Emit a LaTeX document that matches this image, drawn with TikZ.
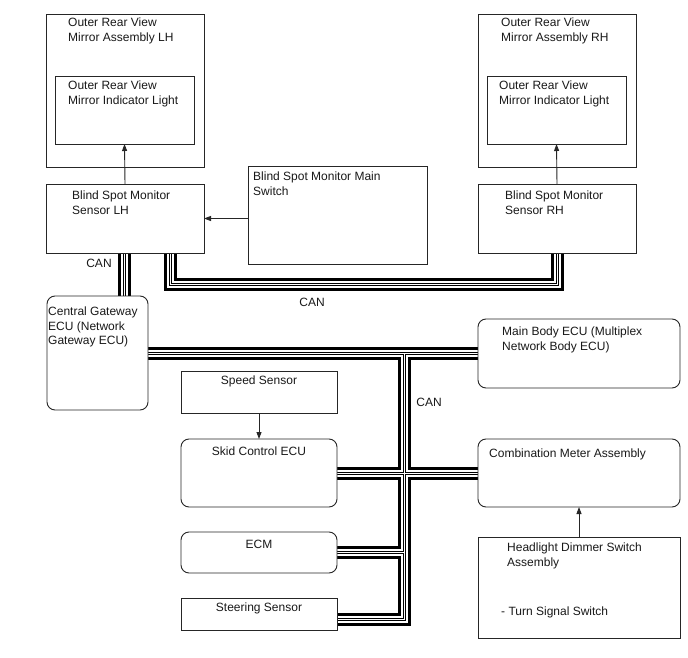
\documentclass[tikz,border=0pt]{standalone}
\usepackage{fontspec}
\setmainfont{Liberation Sans}
\usetikzlibrary{arrows.meta,calc,backgrounds}
\begin{document}
\begin{tikzpicture}[x=1pt,y=-1pt,
  box/.style={draw=black!85, line width=0.9pt, fill=white, anchor=north west, inner sep=0pt, outer sep=0pt},
  rbox/.style={box, rounded corners=8pt},
  txt/.style={anchor=north west, inner sep=0pt, align=left, font=\fontsize{12}{14.2}\selectfont, text=black!90},
  ctxt/.style={anchor=north, inner sep=0pt, font=\fontsize{12}{14.2}\selectfont, text=black!90},
  canlbl/.style={inner sep=0pt, font=\fontsize{12}{14.2}\selectfont, text=black!90},
  arr/.style={draw=black!85, line width=0.9pt, -{Triangle[length=7pt,width=5pt]}},
]
\useasboundingbox (0,0) rectangle (688,658);

% boxes
\node[box, minimum width=158pt, minimum height=153pt] (mirl) at (46,14) {};
\node[box, minimum width=139pt, minimum height=68pt] (indl) at (55,76) {};
\node[box, minimum width=158pt, minimum height=69pt] (lhs) at (46,184) {};
\node[box, minimum width=179pt, minimum height=98pt] (ms) at (248,166) {};
\node[box, minimum width=158pt, minimum height=153pt] (mirr) at (478,14) {};
\node[box, minimum width=139pt, minimum height=68pt] (indr) at (487,76) {};
\node[box, minimum width=158pt, minimum height=69pt] (rhs) at (478,184) {};
\node[rbox, minimum width=101pt, minimum height=114pt] (gw) at (47,296) {};
\node[rbox, minimum width=202pt, minimum height=69pt] (mb) at (478,319) {};
\node[box, minimum width=156pt, minimum height=42pt] (sp) at (181,371) {};
\node[rbox, minimum width=156pt, minimum height=68pt] (sk) at (181,439) {};
\node[rbox, minimum width=156pt, minimum height=41pt] (ecm) at (181,532) {};
\node[box, minimum width=156pt, minimum height=32pt] (st) at (181,598) {};
\node[rbox, minimum width=202pt, minimum height=68pt] (cm) at (478,439) {};
\node[box, minimum width=202pt, minimum height=101pt] (hd) at (478,537) {};

% texts
\node[txt] (mirl-t) at (68,18) {Outer Rear View\\Mirror Assembly LH};
\node[txt] (indl-t) at (68,81) {Outer Rear View\\Mirror Indicator Light};
\node[txt] (lhs-t) at (72,191) {Blind Spot Monitor\\Sensor LH};
\node[txt] (ms-t) at (253,172) {Blind Spot Monitor Main\\Switch};
\node[txt] (mirr-t) at (501,18) {Outer Rear View\\Mirror Assembly RH};
\node[txt] (indr-t) at (499,81) {Outer Rear View\\Mirror Indicator Light};
\node[txt] (rhs-t) at (505,191) {Blind Spot Monitor\\Sensor RH};
\node[txt] (gw-t) at (48,307) {Central Gateway\\ECU (Network\\Gateway ECU)};
\node[txt] (mb-t) at (502,327) {Main Body ECU (Multiplex\\Network Body ECU)};
\node[txt] (cm-t) at (489,449) {Combination Meter Assembly};
\node[txt] (hd-t) at (507,543) {Headlight Dimmer Switch\\Assembly};
\node[txt] (hd-t2) at (501,607) {- Turn Signal Switch};
\node[ctxt] (sp-t) at ($(sp.north)+(0,5)$) {Speed Sensor};
\node[ctxt] (sk-t) at ($(sk.north)+(0,8)$) {Skid Control ECU};
\node[ctxt] (ecm-t) at ($(ecm.north)+(0,8)$) {ECM};
\node[ctxt] (st-t) at ($(st.north)+(0,5)$) {Steering Sensor};

\node[canlbl] (can1) at (99,263) {CAN};
\node[canlbl] (can2) at (312,302) {CAN};
\node[canlbl] (can3) at (429,402) {CAN};

% arrows
\draw[arr] (lhs.north) -- (indl.south);
\draw[arr] (rhs.north) -- (indr.south);
\draw[arr] (ms.west |- lhs.east) -- (lhs.east);
\draw[arr] (sp.south) -- (sk.north);
\draw[arr] (hd.north) -- (cm.south);

% CAN bus
\coordinate (v1) at (124,0);
\coordinate (v2) at (170,0);
\coordinate (v3) at (557,0);
\coordinate (v4) at (404,0);
\coordinate (h2) at (0,284);
\coordinate (h3) at (0,353);
\coordinate (h4) at (0,473);
\coordinate (h5) at (0,619);
\coordinate (h6) at (0,552);
\def\busroutes{
  (v1 |- lhs.south) -- (v1 |- gw.north)
  (v2 |- lhs.south) -- (v2 |- h2) -- (v3 |- h2) -- (v3 |- rhs.south)
  (gw.east |- h3) -- (mb.west |- h3)
  (v4 |- h3) -- (v4 |- h5) -- (st.east |- h5)
  (sk.east |- h4) -- (cm.west |- h4)
  (v4 |- h6) -- (ecm.east |- h6)
}
\begin{scope}[on background layer]
\fill[white] (0,0) rectangle (688,658);
\draw[line width=13pt, black] \busroutes;
\draw[line width=7pt, white] \busroutes;
\draw[line width=3pt, black] \busroutes;
\draw[line width=1pt, white] \busroutes;
\end{scope}
\end{tikzpicture}
\end{document}
